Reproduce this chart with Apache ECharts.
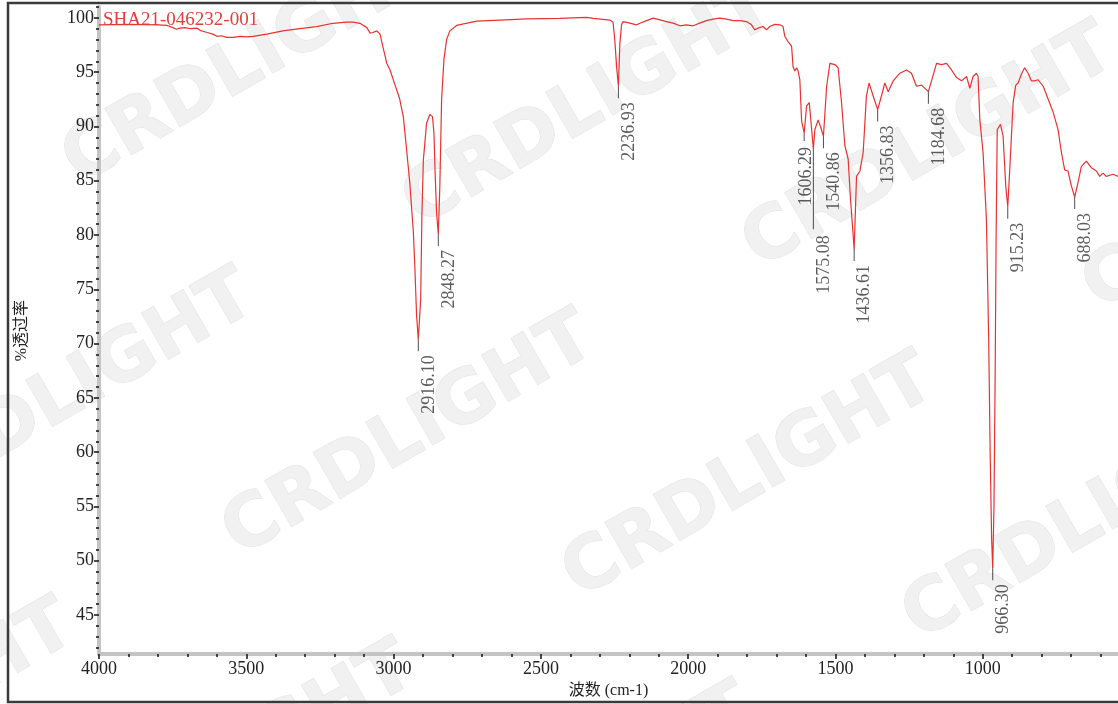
<!DOCTYPE html>
<html>
<head>
<meta charset="utf-8">
<script src="https://cdn.jsdelivr.net/npm/echarts@6/dist/echarts.min.js"></script>
<style>
html,body{margin:0;padding:0;background:#fff;}
#chart{width:1118px;height:704px;}
</style>
</head>
<body>
<div id="chart"></div>
<script>
// ---- data ----
const wavenumbers = [4000,3900,3800,3769,3749,3737,3725,3708,3690,3667,3657,3633,3613,3600,3585,3566,3545,3521,3500,3477,3430,3376,3318,3261,3206,3160,3138,3114,3091,3080,3070,3057,3046,3036,3023,3012,2995,2980,2967,2956,2945,2933,2928,2922,2916.1,2908,2904,2899,2888,2877,2868,2863,2859,2854,2848.3,2843,2837,2829,2820,2809,2786,2718,2639,2549,2436,2345,2323,2266,2255,2249,2243,2236.9,2232,2226,2221,2198,2175,2164,2141,2119,2096,2074,2051,2028,2006,1983,1961,1938,1915,1893,1870,1847,1825,1802,1785,1774,1763,1746,1734,1723,1706,1689,1678,1672,1661,1649,1644,1638,1632,1627,1621,1615,1606.3,1598,1589,1575.1,1570,1559,1551,1540.9,1530,1519,1502,1491,1479.5,1468,1457,1449,1436.6,1428.6,1417,1406,1395,1386,1372,1356.8,1344,1332.5,1321,1304,1281.6,1259,1242,1225,1208,1184.7,1174,1157,1140,1123,1106,1089,1072,1055,1044,1033,1021.5,1016,1010,999,987.6,980,975,970,966.3,962,958,955,951,940,931,922,915.2,908.5,897,888,880,869,858,846,835,824,812,795,778,761,744.5,733,722,711,699,688,677,665.5,648.5,631.5,614.5,603,592,581,558,541];
const transmittance = [99.36,99.4,99.35,99.3,99.1,98.95,99.05,99.1,99.0,99.05,98.85,98.65,98.5,98.3,98.35,98.2,98.2,98.3,98.25,98.3,98.5,98.8,99.0,99.2,99.5,99.6,99.6,99.5,99.1,98.6,98.65,98.8,98.5,97.3,95.8,95.2,93.8,92.6,90.9,87.9,84.8,80.3,77.2,72.6,70.4,74.1,81.7,86.9,90.3,91.1,90.9,89.4,85.7,82.0,80.1,84.5,92.5,96.2,98.0,98.8,99.3,99.7,99.8,99.9,99.95,100.05,99.95,99.8,99.6,97.9,95.5,93.7,97.6,99.4,99.66,99.51,99.36,99.5,99.75,99.97,99.82,99.66,99.51,99.27,99.36,99.27,99.51,99.75,99.88,99.97,99.88,99.75,99.75,99.66,99.36,98.9,99.05,99.2,98.9,99.2,99.4,99.36,99.2,98.3,97.8,97.4,95.5,95.1,95.4,95.1,94.3,90.5,89.4,91.9,92.2,87.9,89.7,90.6,90.0,89.1,93.7,95.8,95.7,95.4,92.2,88.2,87.0,83.3,78.7,85.4,85.9,87.6,92.8,94.0,92.8,91.55,92.8,94.0,93.2,94.2,94.9,95.2,94.9,93.7,93.8,93.2,94.2,95.8,95.7,95.8,95.2,94.5,94.2,94.6,93.5,94.6,94.9,94.6,90.6,87.6,81.4,70.5,60,52,49.3,55,67,79,89.7,90.2,89.1,84.5,82.6,86.0,92.2,93.8,94.0,94.8,95.4,94.9,94.2,94.2,94.3,93.7,92.5,91.3,89.7,87.6,86.0,85.9,84.5,83.5,84.8,86.3,86.8,86.2,85.9,85.4,85.7,85.4,85.6,85.4];

const peakWavenumbers = [2916.10,2848.27,2236.93,1606.29,1575.08,1540.86,1436.61,1356.83,1184.68,966.30,915.23,688.03];
const peakTransmittance = [70.4,80.1,93.7,89.4,87.9,89.1,78.7,91.55,93.2,49.3,82.6,83.5];
const peakLabels = ['2916.10','2848.27','2236.93','1606.29','1575.08','1540.86','1436.61','1356.83','1184.68','966.30','915.23','688.03'];

const xMajorTicks = [4000,3500,3000,2500,2000,1500,1000];
const xMinorTicks = [4000,3900,3800,3700,3600,3500,3400,3300,3200,3100,3000,2900,2800,2700,2600,2500,2400,2300,2200,2100,2000,1900,1800,1700,1600,1500,1400,1300,1200,1100,1000,900,800,700,600];
const yMajorTicks = [45,50,55,60,65,70,75,80,85,90,95,100];
const yMinorTicks = [42,43,44,45,46,47,48,49,50,51,52,53,54,55,56,57,58,59,60,61,62,63,64,65,66,67,68,69,70,71,72,73,74,75,76,77,78,79,80,81,82,83,84,85,86,87,88,89,90,91,92,93,94,95,96,97,98,99,100,101];

const sampleName = 'SHA21-046232-001';
const xName = '波数 (cm-1)';
const yName = '%透过率';

// ---- chart ----
const chart = echarts.init(document.getElementById('chart'), null, {renderer:'canvas'});
const spectrum = wavenumbers.map((w,i)=>[w, transmittance[i]]);

const SERIF = '"Liberation Serif","Noto Sans CJK SC",serif';

const peakData = peakWavenumbers.map((w,i)=>{
  const lbl = peakLabels[i];
  let lead = 12, dx = 11, dy = 16;
  if (lbl === '1575.08') { lead = 80; dy = 86; }
  if (lbl === '1606.29') { dx = 3; dy = 14; lead = 8; }
  return {
    value:[w, peakTransmittance[i]],
    symbolSize:[1, lead],
    symbolOffset:[0, lead/2],
    label:{position:[dx, dy]}
  };
});

// watermarks
const wm = [];
const O = [88, 200], A = [340, 42], B = [160, 372];
for (let j=-1;j<=2;j++){
  for (let i=-2;i<=4;i++){
    const x = O[0] + i*A[0] + j*B[0];
    const y = O[1] + i*A[1] + j*B[1];
    wm.push({
      type:'text', x:x, y:y, rotation:Math.PI/6, silent:true, z:-5,
      style:{text:'CRDLIGHT', font:'bold 73px "DejaVu Sans"', fill:'#f1f1f1', stroke:'#e0e0e0', lineWidth:1, align:'left', verticalAlign:'bottom'}
    });
  }
}
wm.push({type:'rect', silent:true, z:10, shape:{x:8,y:3,width:1300,height:699}, style:{fill:null, stroke:'#3a3a3a', lineWidth:2.5}});
wm.push({type:'text', silent:true, z:10, x:103, y:20, style:{text:sampleName, font:'19px '+SERIF, fill:'#e0403a', align:'left', verticalAlign:'middle'}});

const axisLineStyle = {show:true, lineStyle:{color:'#c4c4c4', width:4}};
const plain = (v)=>String(v);

const option = {
  animation:false,
  backgroundColor:'#ffffff',
  graphic:{elements:wm},
  grid:{left:99, right:0, top:7, bottom:48, containLabel:false},
  xAxis:[
    {type:'value', inverse:true, min:541, max:4000, position:'bottom',
     axisLine:axisLineStyle,
     axisTick:{show:true, customValues:xMajorTicks, length:5, inside:false, lineStyle:{color:'#111', width:1.5}},
     axisLabel:{show:true, customValues:xMajorTicks, formatter:plain, margin:6, color:'#222', fontSize:18, fontFamily:SERIF},
     splitLine:{show:false},
     name:xName, nameLocation:'middle', nameGap:28,
     nameTextStyle:{color:'#222', fontSize:16, fontFamily:SERIF}
    },
    {type:'value', inverse:true, min:541, max:4000, position:'bottom',
     axisLine:{show:false},
     axisTick:{show:true, customValues:xMinorTicks, length:3, inside:false, lineStyle:{color:'#111', width:1.5}},
     axisLabel:{show:false}, splitLine:{show:false}
    }
  ],
  yAxis:[
    {type:'value', min:41.4, max:101, position:'left',
     axisLine:axisLineStyle,
     axisTick:{show:true, customValues:yMajorTicks, length:5, inside:false, lineStyle:{color:'#111', width:1.5}},
     axisLabel:{show:true, customValues:yMajorTicks, formatter:plain, margin:5, color:'#222', fontSize:18, fontFamily:SERIF},
     splitLine:{show:false},
     name:yName, nameLocation:'middle', nameGap:69, nameRotate:90,
     nameTextStyle:{color:'#222', fontSize:16, fontFamily:SERIF}
    },
    {type:'value', min:41.4, max:101, position:'left',
     axisLine:{show:false},
     axisTick:{show:true, customValues:yMinorTicks, length:3, inside:false, lineStyle:{color:'#111', width:1.5}},
     axisLabel:{show:false}, splitLine:{show:false}
    }
  ],
  series:[
    {type:'line', xAxisIndex:0, yAxisIndex:0, data:spectrum, showSymbol:false, symbol:'none',
     lineStyle:{color:'#e8322f', width:1.2}, z:3, silent:true},
    {type:'scatter', xAxisIndex:0, yAxisIndex:0, data:peakData, symbol:'rect',
     itemStyle:{color:'#222'}, z:4, silent:true,
     label:{show:true, rotate:90, align:'right', verticalAlign:'middle',
       formatter:(p)=>peakLabels[p.dataIndex], color:'#333', fontSize:18, fontFamily:SERIF}
    }
  ]
};
chart.setOption(option);
</script>
</body>
</html>
